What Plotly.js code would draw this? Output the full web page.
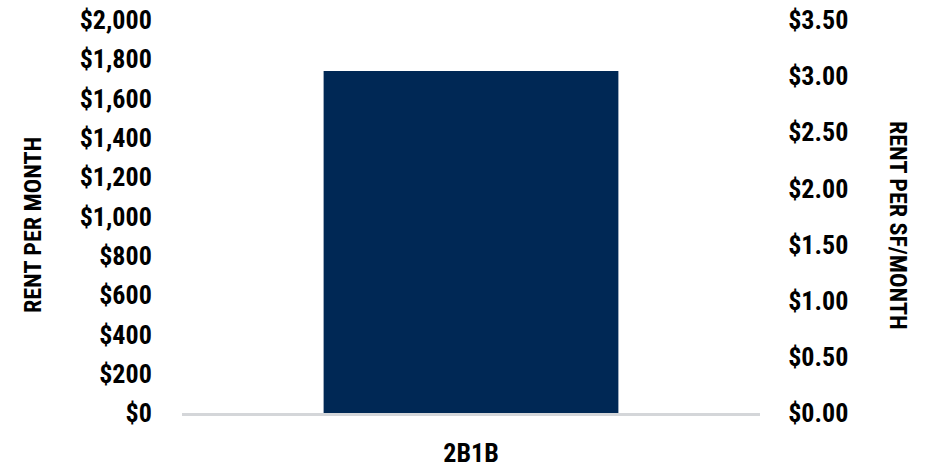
<!DOCTYPE html>
<html>
<head>
<meta charset="utf-8">
<script src="https://cdn.plot.ly/plotly-3.0.1.min.js"></script>
<style>html,body{margin:0;padding:0;background:#fff;}#chart{width:933px;height:471px;}</style>
</head>
<body>
<div id="chart"></div>
<script>
const categories = ["2B1B"];
const rentPerMonth = [1740];
const rentPerSf = [null];
const leftTickVals = [0,200,400,600,800,1000,1200,1400,1600,1800,2000];
const rightTickVals = [0,0.5,1,1.5,2,2.5,3,3.5];

const FONT = "'Roboto Condensed', 'Open Sans Condensed', sans-serif";

const traces = [
  {type:'bar', x:categories, y:rentPerMonth, marker:{color:'#002855'}, width:0.51, hoverinfo:'skip', showlegend:false},
  {type:'scatter', mode:'markers', x:categories, y:rentPerSf, yaxis:'y2', showlegend:false, hoverinfo:'skip'}
];

const layout = {
  width:933, height:471,
  margin:{l:182, r:173, t:20, b:58},
  paper_bgcolor:'#fff', plot_bgcolor:'#fff',
  font:{family:FONT, size:26, color:'#000', weight:'bold'},
  showlegend:false,
  xaxis:{type:'category', range:[-0.5,0.5], showline:true, linecolor:'#d4d6d9', linewidth:3,
         showgrid:false, zeroline:false, ticks:'outside', ticklen:15, tickcolor:'rgba(0,0,0,0)',
         tickfont:{family:FONT, size:26, weight:'bold'}},
  yaxis:{range:[0,2000], tickvals:leftTickVals, ticktext:leftTickVals.map(v=>'$'+v.toLocaleString('en-US')),
         showgrid:false, zeroline:false, showline:false, ticks:'outside', ticklen:24, tickcolor:'rgba(0,0,0,0)',
         tickfont:{family:FONT, size:26, weight:'bold'}},
  yaxis2:{overlaying:'y', side:'right', range:[0,3.5], tickvals:rightTickVals, ticktext:rightTickVals.map(v=>'$'+v.toFixed(2)),
         showgrid:false, zeroline:false, showline:false, ticks:'outside', ticklen:22, tickcolor:'rgba(0,0,0,0)',
         tickfont:{family:FONT, size:26, weight:'bold'}},
  annotations:[
    {text:'RENT PER MONTH', xref:'paper', yref:'paper', x:-0.258, y:0.478, textangle:-90, showarrow:false,
     font:{family:FONT, size:24, weight:'bold', color:'#000'}, xanchor:'center', yanchor:'middle'},
    {text:'RENT PER SF/MONTH', xref:'paper', yref:'paper', x:1.239, y:0.478, textangle:90, showarrow:false,
     font:{family:FONT, size:24, weight:'bold', color:'#000'}, xanchor:'center', yanchor:'middle'}
  ]
};

Plotly.newPlot('chart', traces, layout, {displayModeBar:false, staticPlot:true});
</script>
</body>
</html>
